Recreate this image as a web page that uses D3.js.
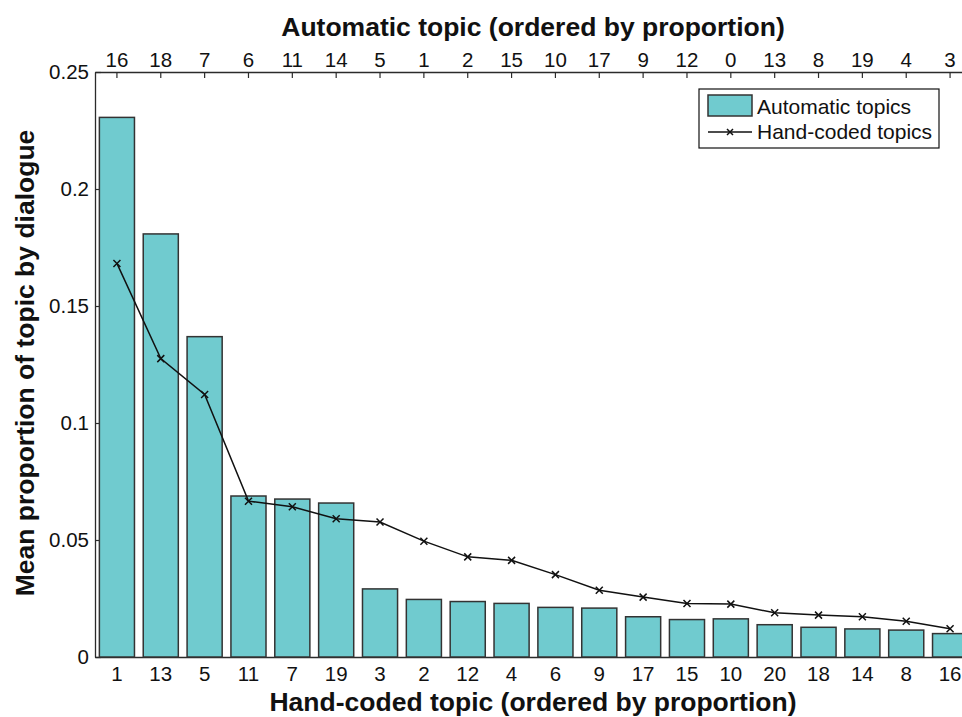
<!DOCTYPE html>
<html>
<head>
<meta charset="utf-8">
<script src="https://cdn.jsdelivr.net/npm/d3@7"></script>
<style>
  html, body { margin: 0; padding: 0; background: #fff; }
  svg { display: block; font-family: "Liberation Sans", Arial, Helvetica, sans-serif; }
  .axis-title { font-size: 26.5px; font-weight: bold; fill: #111; }
</style>
</head>
<body>
<div id="chart"></div>
<script>
// Hand-coded topics along the bottom axis, automatic topics along the top
const handLabels = ['1', '13', '5', '11', '7', '19', '3', '2', '12', '4', '6', '9', '17', '15', '10', '20', '18', '14', '8', '16'];
const autoLabels = ['16', '18', '7', '6', '11', '14', '5', '1', '2', '15', '10', '17', '9', '12', '0', '13', '8', '19', '4', '3'];

// bars: mean proportion of the automatic topics
const autoValues = [0.2306, 0.1808, 0.1369, 0.0688, 0.0675, 0.0658, 0.0291, 0.0246, 0.0237, 0.0229,
  0.0212, 0.0209, 0.0172, 0.0160, 0.0163, 0.0138, 0.0127, 0.0120, 0.0115, 0.0100];
// line: mean proportion of the hand-coded topics
const handValues = [0.1682, 0.1275, 0.1122, 0.0666, 0.0642, 0.0591, 0.0577, 0.0495, 0.0428, 0.0413,
  0.0352, 0.0285, 0.0256, 0.0229, 0.0226, 0.0189, 0.0179, 0.0172, 0.0153, 0.0121];

const yTicks = [0, 0.05, 0.1, 0.15, 0.2, 0.25];

const width = 962;
const height = 717;
const margin = { top: 72, left: 95, bottom: 60 };
const plotRight = 972; // the box runs past the right edge in the original
const plotBottom = height - margin.bottom;

const svg = d3.select('#chart').append('svg')
  .attr('width', width)
  .attr('height', height);

const idx = d3.range(handLabels.length);

const x = d3.scaleBand()
  .domain(idx)
  .range([margin.left, plotRight])
  .paddingInner(0.2)
  .paddingOuter(0.1);

const y = d3.scaleLinear()
  .domain([0, 0.25])
  .range([plotBottom, margin.top]);

const axisColor = '#2b2b2b';
const tickFont = 20.5;

// axes first so the bars sit on top of the inward ticks
const bottomAxis = svg.append('g')
  .attr('transform', `translate(0,${plotBottom})`)
  .call(d3.axisBottom(x).tickSize(-6).tickSizeOuter(0).tickPadding(9)
    .tickFormat((i) => handLabels[i]));

const topAxis = svg.append('g')
  .attr('transform', `translate(0,${margin.top})`)
  .call(d3.axisTop(x).tickSize(-6).tickSizeOuter(0).tickPadding(5)
    .tickFormat((i) => autoLabels[i]));

const leftAxis = svg.append('g')
  .attr('transform', `translate(${margin.left},0)`)
  .call(d3.axisLeft(y).tickValues(yTicks).tickSize(-6).tickSizeOuter(0).tickPadding(6)
    .tickFormat(d3.format('~g')));

svg.append('line')
  .attr('x1', plotRight).attr('x2', plotRight)
  .attr('y1', margin.top).attr('y2', plotBottom)
  .attr('stroke', axisColor);

[bottomAxis, topAxis, leftAxis].forEach((g) => {
  g.select('.domain').attr('stroke', axisColor).attr('stroke-width', 1.3);
  g.selectAll('.tick line').attr('stroke', axisColor).attr('stroke-width', 1.2);
  g.selectAll('.tick text').attr('font-size', tickFont).attr('fill', '#111');
});

// bars
svg.append('g')
  .selectAll('rect')
  .data(autoValues)
  .join('rect')
  .attr('x', (d, i) => x(i))
  .attr('width', x.bandwidth())
  .attr('y', (d) => y(d))
  .attr('height', (d) => plotBottom - y(d))
  .attr('fill', '#70cbcf')
  .attr('stroke', '#333')
  .attr('stroke-width', 1.5);

// line with x markers
const line = d3.line()
  .x((d, i) => x(i) + x.bandwidth() / 2)
  .y((d) => y(d));

svg.append('path')
  .datum(handValues)
  .attr('d', line)
  .attr('fill', 'none')
  .attr('stroke', '#111')
  .attr('stroke-width', 1.5);

const crossPath = (cx, cy, s) =>
  `M${cx - s},${cy - s}L${cx + s},${cy + s}M${cx - s},${cy + s}L${cx + s},${cy - s}`;

svg.append('g')
  .selectAll('path')
  .data(handValues)
  .join('path')
  .attr('d', (d, i) => crossPath(x(i) + x.bandwidth() / 2, y(d), 3.5))
  .attr('stroke', '#111')
  .attr('stroke-width', 1.5);

// axis titles
svg.append('text')
  .attr('class', 'axis-title')
  .attr('x', 533)
  .attr('y', 36)
  .attr('text-anchor', 'middle')
  .text('Automatic topic (ordered by proportion)');

svg.append('text')
  .attr('class', 'axis-title')
  .attr('x', 533)
  .attr('y', 711)
  .attr('text-anchor', 'middle')
  .text('Hand-coded topic (ordered by proportion)');

svg.append('text')
  .attr('class', 'axis-title')
  .attr('transform', 'translate(34,363) rotate(-90)')
  .attr('text-anchor', 'middle')
  .text('Mean proportion of topic by dialogue');

// legend
const legend = svg.append('g').attr('transform', 'translate(699,89)');
legend.append('rect')
  .attr('width', 240).attr('height', 59)
  .attr('fill', '#fff').attr('stroke', '#111').attr('stroke-width', 1.2);
legend.append('rect')
  .attr('x', 9).attr('y', 6).attr('width', 44).attr('height', 21)
  .attr('fill', '#70cbcf').attr('stroke', '#333').attr('stroke-width', 1.5);
legend.append('text')
  .attr('x', 58).attr('y', 25).attr('font-size', 21).attr('fill', '#111')
  .text('Automatic topics');
legend.append('line')
  .attr('x1', 9).attr('x2', 53).attr('y1', 43).attr('y2', 43)
  .attr('stroke', '#111').attr('stroke-width', 1.5);
legend.append('path')
  .attr('d', crossPath(31, 43, 3))
  .attr('stroke', '#111').attr('stroke-width', 1.5);
legend.append('text')
  .attr('x', 58).attr('y', 50).attr('font-size', 21).attr('fill', '#111')
  .text('Hand-coded topics');
</script>
</body>
</html>
